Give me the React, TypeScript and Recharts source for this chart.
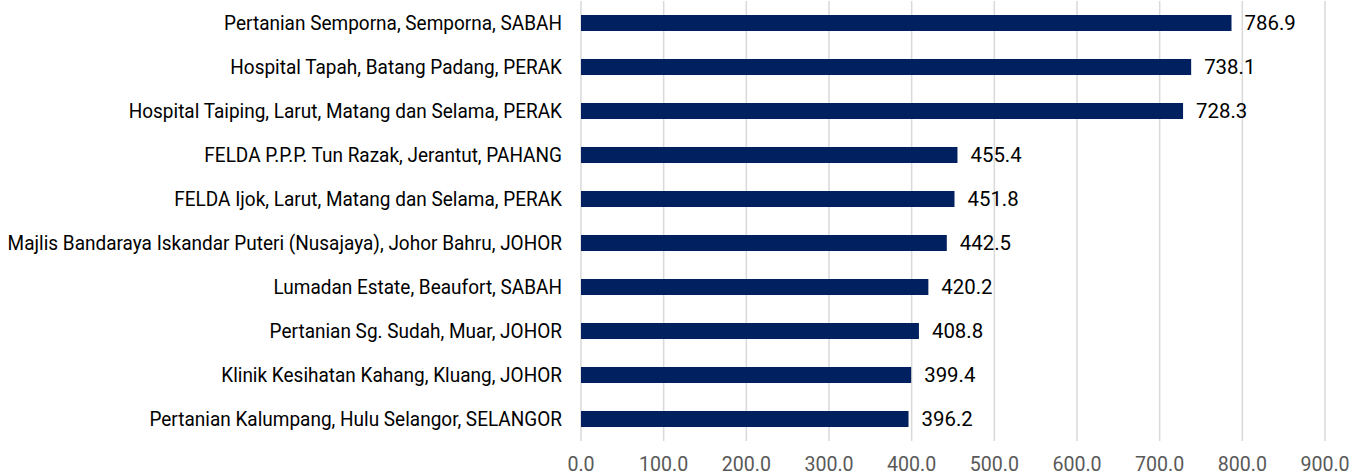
import React from "react";
import { BarChart, Bar, XAxis, YAxis, CartesianGrid, LabelList } from "recharts";

const categories = [
  "Pertanian Semporna, Semporna, SABAH",
  "Hospital Tapah, Batang Padang, PERAK",
  "Hospital Taiping, Larut, Matang dan Selama, PERAK",
  "FELDA P.P.P. Tun Razak, Jerantut, PAHANG",
  "FELDA Ijok, Larut, Matang dan Selama, PERAK",
  "Majlis Bandaraya Iskandar Puteri (Nusajaya), Johor Bahru, JOHOR",
  "Lumadan Estate, Beaufort, SABAH",
  "Pertanian Sg. Sudah, Muar, JOHOR",
  "Klinik Kesihatan Kahang, Kluang, JOHOR",
  "Pertanian Kalumpang, Hulu Selangor, SELANGOR",
];
const values = [786.9, 738.1, 728.3, 455.4, 451.8, 442.5, 420.2, 408.8, 399.4, 396.2];
const xTicks = [0, 100, 200, 300, 400, 500, 600, 700, 800, 900];

const data = categories.map((name, i) => ({ name, value: values[i] }));

const FONT = "Roboto, 'Open Sans', sans-serif";

const YTick = (props: any) => {
  const { x, y, payload } = props;
  return (
    <text
      transform={`translate(${x},${y}) scale(0.95,1)`}
      x={0}
      y={0}
      dy="0.35em"
      textAnchor="end"
      fontFamily={FONT}
      fontSize={20}
      fill="#000000"
    >
      {payload.value}
    </text>
  );
};

const XTick = (props: any) => {
  const { x, y, payload } = props;
  return (
    <text
      transform={`translate(${x},${y}) scale(0.98,1)`}
      x={0}
      y={0}
      dy="0.71em"
      textAnchor="middle"
      fontFamily={FONT}
      fontSize={20}
      fill="#595959"
    >
      {Number(payload.value).toFixed(1)}
    </text>
  );
};

const ValueLabel = (props: any) => {
  const { x, y, width, height, value } = props;
  const lx = x + width + 13;
  const ly = y + height / 2;
  return (
    <text
      transform={`translate(${lx},${ly}) scale(1.02,1)`}
      x={0}
      y={0}
      dy="0.35em"
      textAnchor="start"
      fontFamily={FONT}
      fontSize={20}
      fill="#000000"
    >
      {Number(value).toFixed(1)}
    </text>
  );
};

export default function App() {
  return (
    <div style={{ position: "absolute", left: 0, top: 0, width: 1352, height: 475, background: "#ffffff" }}>
      <BarChart
        width={1352}
        height={475}
        data={data}
        layout="vertical"
        margin={{ top: 1, right: 27, bottom: 0, left: 0 }}
        barCategoryGap={0}
      >
        <CartesianGrid horizontal={false} vertical={true} stroke="#d9d9d9" strokeWidth={1.5} />
        <XAxis
          type="number"
          domain={[0, 900]}
          ticks={xTicks}
          axisLine={false}
          tickLine={false}
          tickMargin={10}
          height={34}
          tick={<XTick />}
          interval={0}
        />
        <YAxis
          type="category"
          dataKey="name"
          width={581}
          axisLine={false}
          tickLine={false}
          tickMargin={13}
          tick={<YTick />}
          interval={0}
        />
        <Bar dataKey="value" fill="#002060" barSize={16} isAnimationActive={false}>
          <LabelList dataKey="value" content={<ValueLabel />} />
        </Bar>
      </BarChart>
    </div>
  );
}
